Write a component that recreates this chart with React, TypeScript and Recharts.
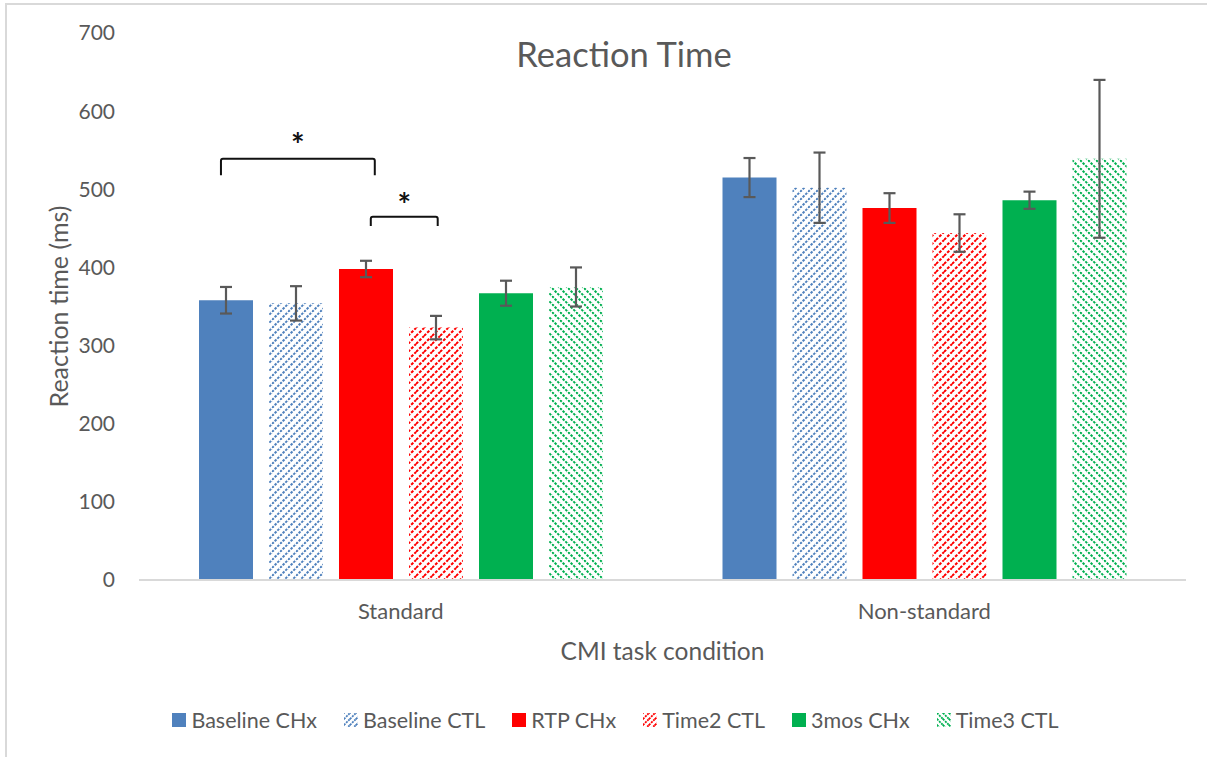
import React from 'react';
import { BarChart, Bar, XAxis, YAxis, ErrorBar, Legend, Customized } from 'recharts';

const categories = ['Standard', 'Non-standard'];
const seriesNames = ['Baseline CHx', 'Baseline CTL', 'RTP CHx', 'Time2 CTL', '3mos CHx', 'Time3 CTL'];
const baselineCHx = [358, 515];
const baselineCTL = [354, 502];
const rtpCHx = [398, 476];
const time2CTL = [323, 444];
const mos3CHx = [367, 486];
const time3CTL = [375, 539];
const baselineCHxErr = [17, 25];
const baselineCTLErr = [22, 45];
const rtpCHxErr = [10.5, 19];
const time2CTLErr = [15, 24];
const mos3CHxErr = [16, 11];
const time3CTLErr = [25, 101];
const yTicks = [0, 100, 200, 300, 400, 500, 600, 700];

const FONT = 'Lato, "Noto Sans", sans-serif';
const TEXT = '#595959';

const W = 1207;
const H = 757;
const M = { top: 33, right: 21, left: 0, bottom: 17 };
const Y_W = 139;
const X_H = 120;
const LEG_H = 40;
const CAT_GAP = 60;
const BAR_GAP = 16;
const Y_MAX = 700;
const TITLE_X = 624;

const keys = ['bCHx', 'bCTL', 'rCHx', 't2CTL', 'm3CHx', 't3CTL'];
const values = [baselineCHx, baselineCTL, rtpCHx, time2CTL, mos3CHx, time3CTL];
const errs = [baselineCHxErr, baselineCTLErr, rtpCHxErr, time2CTLErr, mos3CHxErr, time3CTLErr];
const fills = ['#4F81BD', 'url(#patBlue)', '#FF0000', 'url(#patRed)', '#00B050', 'url(#patGreen)'];
const legendColors = ['#4F81BD', '#4F81BD', '#FF0000', '#FF0000', '#00B050', '#00B050'];
const legendKinds = ['solid', 'up', 'solid', 'upDash', 'solid', 'down'];

const data = categories.map((c, i) => {
  const row: any = { name: c };
  keys.forEach((k, j) => {
    row[k] = values[j][i];
    row[k + 'Err'] = errs[j][i];
  });
  return row;
});

// layout helpers for annotations (derived from the chart's layout constants)
const plotLeft = M.left + Y_W;
const plotTop = M.top;
const plotW = W - M.left - M.right - Y_W;
const plotH = H - M.top - M.bottom - LEG_H - X_H;
const band = plotW / categories.length;
const barW = (band - 2 * CAT_GAP - (keys.length - 1) * BAR_GAP) / keys.length;
const barCenter = (cat: number, i: number) => plotLeft + cat * band + CAT_GAP + i * (barW + BAR_GAP) + barW / 2;
const yPix = (v: number) => plotTop + plotH * (1 - v / Y_MAX);

const brackets = [
  { x1: barCenter(0, 0) - 5, x2: barCenter(0, 2) + 9, top: 539, bottom: 518, star: 563 },
  { x1: barCenter(0, 2) + 5, x2: barCenter(0, 3) + 2, top: 465, bottom: 453, star: 486 },
];

const Patterns = ({ prefix = 'pat' }: { prefix?: string }) => (
  <defs>
    <pattern id={prefix + 'Blue'} width="8" height="8" patternUnits="userSpaceOnUse">
      <rect width="8" height="8" fill="#fff" />
      <path d="M-2,2 L2,-2 M0,8 L8,0 M6,10 L10,6" stroke="#4F81BD" strokeWidth="2" strokeDasharray="2.5 1.3" />
    </pattern>
    <pattern id={prefix + 'Red'} width="8" height="8" patternUnits="userSpaceOnUse">
      <rect width="8" height="8" fill="#fff" />
      <path d="M-2,2 L2,-2 M0,8 L8,0 M6,10 L10,6" stroke="#FF0000" strokeWidth="2" strokeDasharray="3 1.5" />
    </pattern>
    <pattern id={prefix + 'Green'} width="8" height="8" patternUnits="userSpaceOnUse">
      <rect width="8" height="8" fill="#fff" />
      <path d="M-2,6 L2,10 M0,0 L8,8 M6,-2 L10,2" stroke="#00B050" strokeWidth="2" strokeDasharray="2.5 1.3" />
    </pattern>
  </defs>
);

const Annotations = () => (
  <g>
    <text x={TITLE_X} y={67} textAnchor="middle" fontFamily={FONT} fontSize={34.5} fill={TEXT}>
      Reaction Time
    </text>
    <text
      x={58}
      y={plotTop + plotH / 2}
      transform={`rotate(-90, 58, ${plotTop + plotH / 2})`}
      textAnchor="middle"
      dominantBaseline="central"
      fontFamily={FONT}
      fontSize={25}
      fill={TEXT}
    >
      Reaction time (ms)
    </text>
    <text x={plotLeft + plotW / 2} y={660} textAnchor="middle" fontFamily={FONT} fontSize={24.5} fill={TEXT}>
      CMI task condition
    </text>
    {brackets.map((b, i) => (
      <g key={i}>
        <path
          d={`M${b.x1},${yPix(b.bottom)} L${b.x1},${yPix(b.top) + 2} Q${b.x1},${yPix(b.top)} ${b.x1 + 2},${yPix(b.top)} L${b.x2 - 2},${yPix(b.top)} Q${b.x2},${yPix(b.top)} ${b.x2},${yPix(b.top) + 2} L${b.x2},${yPix(b.bottom)}`}
          fill="none"
          stroke="#111"
          strokeWidth={2}
        />
        <text x={(b.x1 + b.x2) / 2} y={yPix(b.star) + 17} textAnchor="middle" fontFamily={FONT} fontWeight="bold" fontSize={32} fill="#111">
          *
        </text>
      </g>
    ))}
  </g>
);

const LegendIcon = ({ idx }: { idx: number }) => {
  const c = legendColors[idx];
  const kind = legendKinds[idx];
  const pid = 'leg' + idx;
  return (
    <svg width={14} height={14} style={{ display: 'block' }}>
      <defs>
        <pattern id={pid} width="6" height="6" patternUnits="userSpaceOnUse">
          {kind === 'down' ? (
            <path d="M-1,5 L1,7 M0,0 L6,6 M5,-1 L7,1" stroke={c} strokeWidth="1.8" strokeDasharray="2 1" />
          ) : (
            <path d="M-1,1 L1,-1 M0,6 L6,0 M5,7 L7,5" stroke={c} strokeWidth="1.8" strokeDasharray="2 1" />
          )}
        </pattern>
      </defs>
      <rect width={14} height={14} fill={kind === 'solid' ? c : `url(#${pid})`} />
    </svg>
  );
};

const LegendContent = () => (
  <div
    style={{
      display: 'flex',
      justifyContent: 'center',
      alignItems: 'center',
      height: LEG_H,
      paddingLeft: 45,
      fontFamily: FONT,
      fontSize: 21.5,
      color: TEXT,
    }}
  >
    {seriesNames.map((n, i) => (
      <div key={n} style={{ display: 'flex', alignItems: 'center', marginRight: i < seriesNames.length - 1 ? 27 : 0 }}>
        <LegendIcon idx={i} />
        <span style={{ marginLeft: 5 }}>{n}</span>
      </div>
    ))}
  </div>
);

export default function App() {
  return (
    <div style={{ position: 'absolute', left: 0, top: 0, width: W, height: H, background: '#fff' }}>
      <div
        style={{
          position: 'absolute',
          left: 5,
          top: 3,
          width: W,
          height: H,
          borderLeft: '2px solid #d9d9d9',
          borderTop: '2px solid #d9d9d9',
          boxSizing: 'border-box',
        }}
      />
      <BarChart width={W} height={H} data={data} margin={M} barCategoryGap={CAT_GAP} barGap={BAR_GAP}>
        <Patterns />
        <XAxis
          dataKey="name"
          height={X_H}
          axisLine={{ stroke: '#d9d9d9', strokeWidth: 2 }}
          tickLine={false}
          tickSize={0}
          tickMargin={23}
          tick={{ fill: TEXT, fontSize: 22, fontFamily: FONT }}
        />
        <YAxis
          width={Y_W}
          domain={[0, Y_MAX]}
          ticks={yTicks}
          axisLine={false}
          tickLine={false}
          tickSize={0}
          tickMargin={24}
          tick={{ fill: TEXT, fontSize: 21, fontFamily: FONT }}
        />
        <Legend verticalAlign="bottom" height={LEG_H} content={<LegendContent />} />
        {keys.map((k, i) => (
          <Bar key={k} dataKey={k} name={seriesNames[i]} fill={fills[i]} isAnimationActive={false}>
            <ErrorBar dataKey={k + 'Err'} width={6} stroke="#595959" strokeWidth={2.2} />
          </Bar>
        ))}
        <Customized component={Annotations} />
      </BarChart>
    </div>
  );
}
